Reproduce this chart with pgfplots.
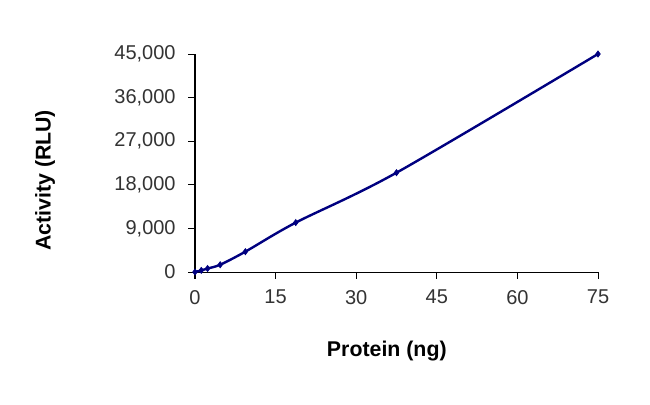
\documentclass[border=0pt]{standalone}
\usepackage{pgfplots}
\pgfplotsset{compat=1.18}
\usepackage{fontspec}
\setmainfont{Liberation Sans}
\definecolor{navyline}{RGB}{0,0,128}
\begin{document}
\begin{tikzpicture}
\useasboundingbox[fill=white] (0,0) rectangle (487.5pt,303pt);
\begin{axis}[
  at={(146.25pt,99pt)}, anchor=south west,
  scale only axis, width=302.25pt, height=163.5pt,
  xmin=0, xmax=75, ymin=0, ymax=45000,
  axis x line*=bottom, axis y line*=left,
  axis line style={black, line width=0.75pt},
  xtick={0,15,30,45,60,75},
  ytick={0,9000,18000,27000,36000,45000},
  tick align=outside, major tick length=5pt,
  tick style={black, line width=0.75pt},
  scaled y ticks=false,
  /pgf/number format/1000 sep={,},
  /pgf/number format/assume math mode=true,
  ticklabel style={font=\fontsize{15}{18}\selectfont, text=black!80},
  yticklabel style={xshift=-6pt},
  xticklabel style={yshift=-5pt},
  every axis y label/.style={at={(axis description cs:-0.372,0.42)}, rotate=90, anchor=center},
  every axis x label/.style={at={(axis description cs:0.476,-0.363)}, anchor=center},
  label style={font=\bfseries\fontsize{16}{19}\selectfont},
  xlabel={Protein (ng)},
  ylabel={Activity (RLU)},
  clip=false,
]
\addplot[navyline, line width=1.8pt, smooth, mark=diamond*, mark size=2.3pt, mark options={fill=navyline, line width=0.5pt}]
coordinates {
(0,0)
(1.17,330)
(2.34,720)
(4.69,1500)
(9.375,4200)
(18.75,10200)
(37.5,20500)
(75,45000)
};
\end{axis}
\end{tikzpicture}
\end{document}
